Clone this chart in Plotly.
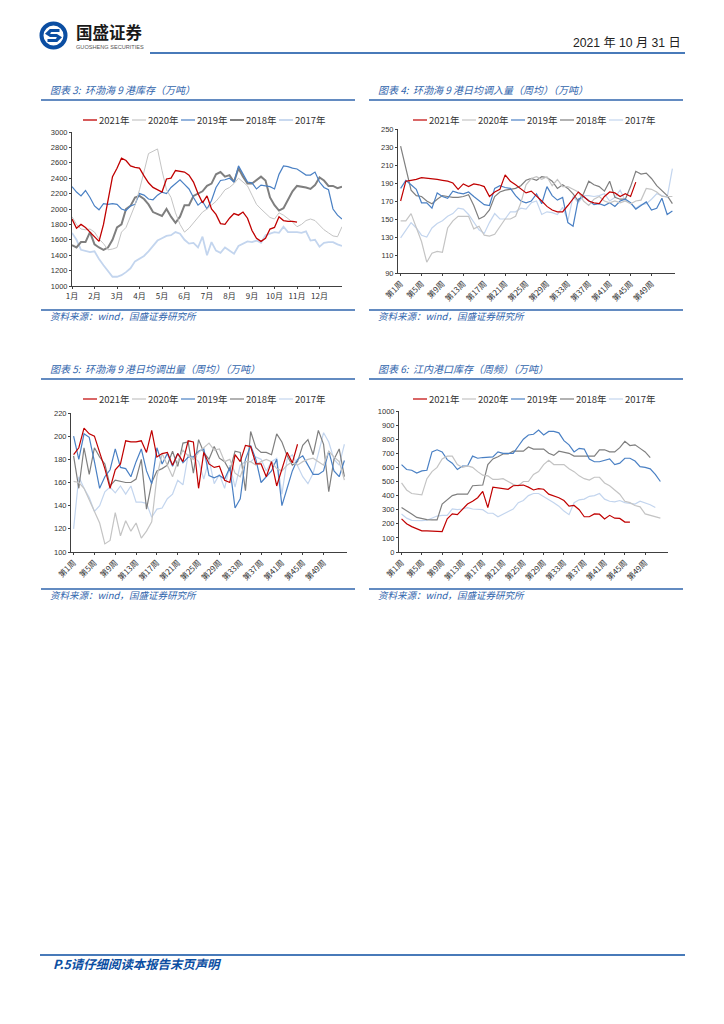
import plotly.graph_objects as go

W, H = 724, 1024
names = ["2021年", "2020年", "2019年", "2018年", "2017年"]
colors = ["#c00000", "#c4c4c4", "#4a80c4", "#7f7f7f", "#c3d5ee"]

months = ["1月", "2月", "3月", "4月", "5月", "6月", "7月", "8月", "9月", "10月", "11月", "12月"]
week_labels = ["第1周", "第5周", "第9周", "第13周", "第17周", "第21周", "第25周", "第29周", "第33周", "第37周", "第41周", "第45周", "第49周"]

# Chart 3: stock, sampled every 0.2 month
c3_2021 = [1870,1750,1800,1760,1700,1640,1580,1800,2120,2420,2530,2660,2630,2560,2540,2530,2430,2340,2280,2250,2220,2390,2400,2500,2490,2480,2440,2350,2200,2080,2170,2000,1930,1810,1800,1880,1940,1920,1960,1880,1720,1620,1580,1620,1740,1760,1900,1850,1840,1840,1830]
c3_2020 = [1900,1800,1740,1730,1740,1700,1610,1550,1470,1480,1500,1700,1760,1900,2050,2250,2480,2720,2750,2780,2500,2250,2150,1950,1800,1700,1750,1820,1900,1960,2000,2050,2100,2170,2250,2280,2330,2400,2350,2300,2180,2060,2000,1950,1890,1870,1950,1920,1880,1830,1770,1800,1850,1870,1850,1790,1730,1690,1650,1640,1770]
c3_2019 = [2290,2220,2170,2240,2150,2040,1990,2070,2060,2070,2060,2000,1980,2040,2060,2200,2180,2130,2120,2180,2220,2200,2280,2330,2380,2320,2260,2150,2050,2100,2000,2110,2280,2370,2380,2400,2350,2560,2450,2350,2340,2260,2310,2300,2290,2260,2450,2560,2550,2530,2520,2480,2440,2440,2480,2350,2280,2250,2000,1920,1870]
c3_2018 = [1530,1500,1570,1570,1700,1540,1500,1470,1500,1600,1760,1800,2000,2040,2150,2170,2130,2060,1960,1940,1910,2000,1900,1820,1900,2050,2050,2170,2200,2230,2300,2330,2450,2480,2420,2440,2350,2530,2420,2330,2330,2370,2420,2370,2150,2050,1980,2010,2120,2230,2300,2290,2280,2260,2310,2410,2370,2300,2300,2270,2290]
c3_2017 = [1690,1600,1470,1450,1440,1450,1350,1270,1200,1120,1120,1140,1180,1230,1320,1350,1390,1450,1520,1590,1620,1650,1660,1700,1680,1600,1550,1560,1500,1640,1400,1570,1460,1430,1500,1460,1420,1520,1550,1580,1570,1590,1560,1660,1680,1700,1690,1770,1700,1700,1700,1690,1710,1590,1600,1510,1560,1570,1570,1540,1520]

# Chart 4: weekly inflow
c4_2021 = [170,192,193,194,196,195.5,195,194,193,192,190,183,189,186,189,188,186,175,180,183,199,192,188,184,179,181,176,170,164,160,158,158,165,172,180,175,170,168,167,175,180,179,175,178,175,191]
c4_2020 = [148,148,156,140,125,102,112,114,113,140,148,153,153,153,139,142,132,131,133,142,150,150,153,168,188,195,197,194,197,187,194,186,186,183,180,170,165,172,175,170,168,170,168,170,167,170,171,184,183,180,175,175,175]
c4_2019 = [184,193,188,183,168,168,162,179,175,173,181,179,178,180,175,170,166,165,184,187,185,184,176,170,168,170,178,167,186,176,171,174,146,142,172,175,171,166,167,165,168,164,170,172,168,161,165,169,160,162,173,155,159]
c4_2018 = [231,205,182,176,175,170,167,172,176,175,174,174,175,177,165,150,153,160,175,180,182,183,184,187,193,195,193,197,196,192,184,188,184,178,170,178,192,188,186,181,192,174,172,172,186,203,200,201,195,187,182,176,167]
c4_2017 = [129,138,146,140,132,130,140,145,148,153,156,162,161,155,146,138,134,146,156,150,150,158,158,162,161,168,170,155,158,157,155,163,148,175,168,176,176,175,176,178,170,174,182,170,168,162,166,167,172,178,176,174,206]

# Chart 5: weekly outflow
c5_2021 = [184,190,207,202,200,186,172,155,171,176,196,195,195,196,186,205,182,185,186,175,185,178,196,195,155,186,176,173,174,162,160,184,178,192,191,176,176,165,178,157,172,186,177,193]
c5_2020 = [161,160,155,145,135,125,107,110,134,114,127,118,125,112,118,126,165,185,175,165,178,188,183,180,186,190,194,188,189,178,180,168,165,178,178,175,178,180,178,172,170,175,178,175,178,180,181,178,175,187,182,178,162]
c5_2019 = [200,180,202,199,178,155,165,171,189,173,172,165,178,189,170,159,190,176,185,174,185,177,182,182,187,189,166,164,166,163,173,138,146,180,192,180,160,165,170,180,140,155,170,180,183,175,167,167,170,187,170,165,179]
c5_2018 = [183,155,190,167,190,182,176,157,162,161,160,160,163,180,137,160,170,172,175,187,174,194,195,168,197,186,180,191,181,178,170,187,186,153,204,190,186,186,184,202,195,183,175,178,192,197,184,205,193,152,180,189,165]
c5_2017 = [120,165,155,147,135,140,152,156,151,157,150,157,143,143,142,130,137,138,146,150,162,158,184,182,178,163,180,159,167,155,175,156,175,178,178,182,180,170,178,181,150,180,184,175,165,159,168,185,203,195,180,175,193]

# Chart 6: river port stock
c6_2021 = [235,200,180,165,150,150,148,145,145,235,270,265,300,340,360,385,430,315,460,455,450,445,470,470,475,460,440,450,445,410,400,385,365,325,330,300,250,250,270,268,235,260,240,238,212,212]
c6_2020 = [490,440,415,410,405,520,570,600,660,680,680,620,600,610,600,570,545,540,515,515,520,500,480,470,500,500,550,570,620,650,620,620,620,590,570,540,520,510,530,530,490,470,440,410,360,350,330,320,270,260,255,240]
c6_2019 = [620,585,580,560,575,580,710,725,710,655,630,585,610,610,680,665,670,675,675,710,700,700,700,750,800,830,835,865,830,855,855,845,790,760,710,735,730,660,640,640,650,660,620,630,665,665,645,605,600,590,550,500]
c6_2018 = [315,295,270,245,235,230,228,228,340,370,400,410,410,410,470,470,475,620,660,675,695,695,715,715,715,745,730,730,730,700,685,715,710,700,680,680,680,680,680,725,725,710,710,740,785,755,760,735,710,670]
c6_2017 = [270,240,225,222,222,225,238,255,260,260,305,300,305,315,305,300,300,275,275,250,270,290,305,350,365,400,415,415,395,370,350,325,290,265,350,370,375,395,400,415,375,360,355,365,350,345,340,360,350,335,315]

def px(x): return x / W
def py(y): return 1 - y / H

BLUE = "#2f64ac"
NAVY = "#0b4ea2"
CJK = "Noto Sans CJK SC"
fig = go.Figure()
shapes, annos = [], []

def rule(x0, x1, y, color=BLUE, width=1.5):
    shapes.append(dict(type="line", xref="paper", yref="paper", x0=px(x0), x1=px(x1), y0=py(y), y1=py(y),
                       line=dict(color=color, width=width)))

def text(x, y, s, size=9, color="#333333", anchor="left", style="normal", weight="normal", family=CJK):
    annos.append(dict(xref="paper", yref="paper", x=px(x), y=py(y), text=s, showarrow=False, xanchor=anchor,
                      yanchor="middle", borderpad=0,
                      font=dict(size=size, color=color, family=family, style=style, weight=weight)))

panels = [
    dict(n=1, box=(72, 342, 132, 286), yr=(1000, 3000), dt=200, xr=(0, 12), step=0.2,
         vals=[c3_2021, c3_2020, c3_2019, c3_2018, c3_2017], widths=[1.3, 1, 1.2, 2, 1.8],
         tv=list(range(12)), tt=months, angle=0,
         title="图表 3:  环渤海 9 港库存（万吨）", left=41, right=355, top=100, bot=310, legx=83, legy=120),
    dict(n=2, box=(398, 675, 129, 273), yr=(90, 250), dt=20, xr=(-0.5, 52.5), step=1,
         vals=[c4_2021, c4_2020, c4_2019, c4_2018, c4_2017], widths=[1.2, 1.2, 1.2, 1.2, 1.2],
         tv=list(range(0, 52, 4)), tt=week_labels, angle=-45,
         title="图表 4:  环渤海 9 港日均调入量（周均）（万吨）", left=369, right=683, top=100, bot=310, legx=413, legy=120),
    dict(n=3, box=(71, 347, 413, 552), yr=(100, 220), dt=20, xr=(-0.5, 52.5), step=1,
         vals=[c5_2021, c5_2020, c5_2019, c5_2018, c5_2017], widths=[1.2, 1.2, 1.2, 1.2, 1.2],
         tv=list(range(0, 52, 4)), tt=week_labels, angle=-45,
         title="图表 5:  环渤海 9 港日均调出量（周均）（万吨）", left=41, right=355, top=379, bot=589, legx=83, legy=399),
    dict(n=4, box=(399, 668, 411, 552), yr=(0, 1000), dt=100, xr=(-0.5, 52.5), step=1,
         vals=[c6_2021, c6_2020, c6_2019, c6_2018, c6_2017], widths=[1.2, 1.2, 1.2, 1.2, 1.2],
         tv=list(range(0, 52, 4)), tt=week_labels, angle=-45,
         title="图表 6:  江内港口库存（周频）（万吨）", left=369, right=683, top=379, bot=589, legx=413, legy=399),
]

layout_axes = {}
for p in panels:
    n = p["n"]
    suffix = "" if n == 1 else str(n)
    x0, x1, y0, y1 = p["box"]
    layout_axes["xaxis" + suffix] = dict(
        domain=[px(x0), px(x1)], range=list(p["xr"]), anchor="y" + suffix, showgrid=False, zeroline=False,
        showline=True, linecolor="#404040", linewidth=1, ticks="outside", ticklen=2, tickwidth=1, tickcolor="#404040",
        tickmode="array", tickvals=p["tv"], ticktext=p["tt"], tickangle=p["angle"],
        tickfont=dict(size=8, family=CJK, color="#333333"))
    layout_axes["yaxis" + suffix] = dict(
        domain=[py(y1), py(y0)], range=list(p["yr"]), anchor="x" + suffix, showgrid=False, zeroline=False,
        showline=True, linecolor="#404040", linewidth=1, ticks="outside", ticklen=2, tickwidth=1, tickcolor="#404040",
        dtick=p["dt"], tick0=p["yr"][0], tickfont=dict(size=7.5, family="Liberation Sans", color="#333333"))
    # Draw order: older years beneath, as in the reference the newest series is on top.
    for i in range(4, -1, -1):
        v = p["vals"][i]
        xs = [k * p["step"] for k in range(len(v))]
        fig.add_trace(go.Scatter(x=xs, y=v, mode="lines", name=names[i], showlegend=False,
                                 xaxis="x" + suffix, yaxis="y" + suffix,
                                 line=dict(color=colors[i], width=p["widths"][i]), hoverinfo="skip"))
    # Legend row
    for i, nm in enumerate(names):
        lx = p["legx"] + i * 49
        shapes.append(dict(type="line", xref="paper", yref="paper", x0=px(lx), x1=px(lx + 14),
                           y0=py(p["legy"]), y1=py(p["legy"]),
                           line=dict(color=colors[i], width=max(p["widths"][i], 1.2))))
        text(lx + 15, p["legy"], nm, size=9.5, color="#333333")
    # Title, rules and source
    text(p["left"] + 8, p["top"] - 11, p["title"], size=10, color=BLUE, style="italic")
    rule(p["left"], p["right"], p["top"])
    rule(p["left"], p["right"], p["bot"])
    text(p["left"] + 8, p["bot"] + 6, "资料来源：wind，国盛证券研究所", size=9.5, color=BLUE, style="italic")

# Header
rule(150, 685, 53, NAVY, 1.6)
text(682, 43, "2021 年 10 月 31 日", size=12.2, color="#222222", anchor="right", family="Liberation Sans, " + CJK)
text(75, 32, "国盛证券", size=16.5, color="#1a1a1a", weight="bold", family="Noto Sans CJK SC")
text(75, 46.5, "GUOSHENG SECURITIES", size=5.6, color="#555555", family="Liberation Sans")
cx, cy = 53.5, 35.5
shapes.append(dict(type="circle", xref="paper", yref="paper", x0=px(cx - 12), x1=px(cx + 12), y0=py(cy + 12), y1=py(cy - 12),
                   fillcolor="white", line=dict(color=NAVY, width=4)))
s_pts = [(cx + 6, cy - 5), (cx - 3, cy - 5), (cx - 6, cy - 2), (cx - 3, cy), (cx + 3, cy), (cx + 6, cy + 2), (cx + 3, cy + 5), (cx - 6, cy + 5)]
path = "M " + " L ".join(f"{px(a):.5f},{py(b):.5f}" for a, b in s_pts)
shapes.append(dict(type="path", xref="paper", yref="paper", path=path, line=dict(color=NAVY, width=3.2)))

# Footer
rule(40, 685, 955, NAVY, 1.6)
text(52, 964, "P.5请仔细阅读本报告末页声明", size=12.4, color=NAVY, style="italic", weight="bold")

fig.update_layout(width=W, height=H, margin=dict(l=0, r=0, t=0, b=0, autoexpand=False), paper_bgcolor="white", plot_bgcolor="white",
                  shapes=shapes, annotations=annos, showlegend=False, **layout_axes)
fig.write_html("out.html", config={"displayModeBar": False},
               post_script="document.body.style.margin='0';")
